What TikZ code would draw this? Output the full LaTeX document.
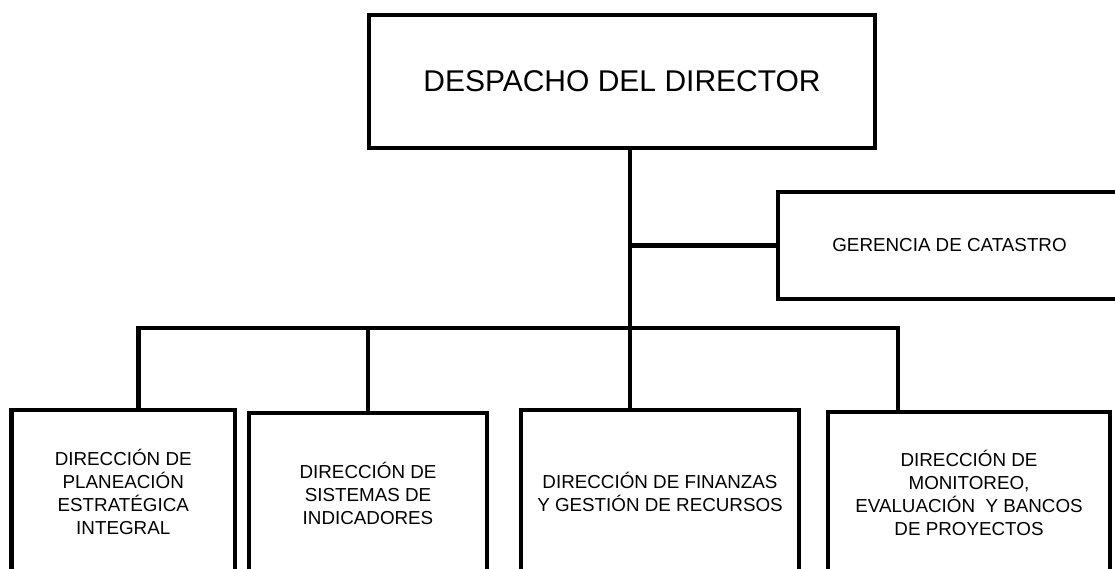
\documentclass[tikz,border=0pt]{standalone}
\usepackage{fontspec}
\setmainfont{Liberation Sans}
\usepackage{tikz}
\usetikzlibrary{calc}

\begin{document}
\begin{tikzpicture}[x=1pt,y=-1pt,line width=4.3pt,
  caja/.style={draw,rectangle,align=center,inner sep=0pt,
    font=\fontsize{18.8}{23.2}\selectfont}]

\useasboundingbox (0,0) rectangle (1115,569);
\clip (0,0) rectangle (1115,569);

\node[caja,minimum width=506pt,minimum height=133pt,
  font=\fontsize{30}{35}\selectfont] (despacho) at (622,81.5) {DESPACHO DEL DIRECTOR};

\node[caja,minimum width=343pt,minimum height=107pt] (catastro) at (949.5,245.5)
  {GERENCIA DE CATASTRO};

% direcciones
\node[caja,minimum width=223.5pt,minimum height=164pt] (planeacion) at (123.25,492)
  {DIRECCIÓN DE\\PLANEACIÓN\\ESTRATÉGICA\\INTEGRAL};
\node[caja,minimum width=238pt,minimum height=161pt] (sistemas) at (368,493.5)
  {DIRECCIÓN DE\\SISTEMAS DE\\INDICADORES};
\node[caja,minimum width=278pt,minimum height=164pt] (finanzas) at (660,492)
  {DIRECCIÓN DE FINANZAS\\Y GESTIÓN DE RECURSOS};
\node[caja,minimum width=282pt,minimum height=162pt] (monitoreo) at (969,493)
  {DIRECCIÓN DE\\MONITOREO,\\EVALUACIÓN \ Y BANCOS\\DE PROYECTOS};

\coordinate (tronco) at (630,328);
\coordinate (izq) at (138.5,328);
\coordinate (der) at (898,328);

\draw (despacho.south -| tronco) -- (finanzas.north -| tronco);
\draw (catastro.west) -- (catastro.west -| tronco);
\draw (planeacion.north -| izq) -- (izq) -- (der) -- (monitoreo.north -| der);
\draw (sistemas.north) -- (sistemas.north |- izq);

\end{tikzpicture}
\end{document}
